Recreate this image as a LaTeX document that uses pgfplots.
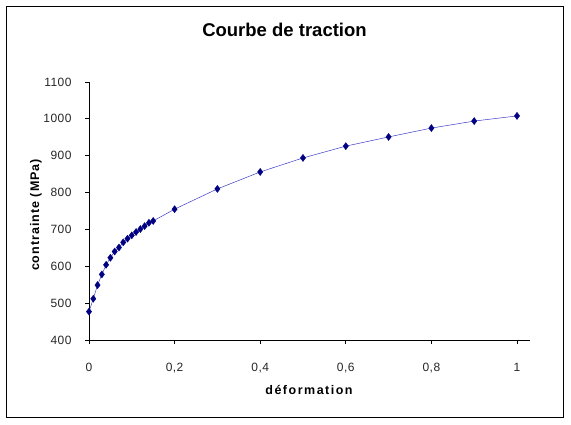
\documentclass[border=0pt]{standalone}
\usepackage{fontspec}
\setmainfont{Liberation Sans}
\usepackage{pgfplots}
\pgfplotsset{compat=1.18}
\definecolor{navy}{RGB}{0,0,128}
\definecolor{lineblue}{RGB}{60,60,200}
\begin{document}
\begin{tikzpicture}
\begin{axis}[
  at={(89pt,-340pt)}, anchor=south west,
  scale only axis, width=441pt, height=258pt,
  xmin=0, xmax=1.0304, ymin=400, ymax=1100,
  axis lines=left, axis line style={-, line width=0.8pt},
  xtick={0,0.2,0.4,0.6,0.8,1}, ytick={400,500,...,1100},
  tick align=outside, major tick length=4pt,
  tick style={black, line width=0.8pt},
  /pgf/number format/assume math mode=true,
  /pgf/number format/use comma,
  /pgf/number format/1000 sep={},
  tick label style={font=\fontsize{12}{14}\selectfont\addfontfeature{LetterSpace=4}, text=black!85},
  xticklabel style={anchor=base, inner sep=0pt, yshift=-27pt},
  yticklabel style={anchor=east, inner sep=0pt, xshift=-13.3pt},
  clip=false,
]
\addplot[color=lineblue, line width=0.5pt, mark=diamond*, mark size=3.6pt,
  mark options={fill=navy, draw=navy, line width=0.3pt}] coordinates {
(0,477) (0.01,512) (0.02,549) (0.03,578) (0.04,604) (0.05,623)
(0.06,640) (0.07,651) (0.08,665) (0.09,675) (0.10,684) (0.11,693)
(0.12,701) (0.13,709) (0.14,718) (0.15,723) (0.2,755) (0.3,810)
(0.4,856) (0.5,894) (0.6,926) (0.7,951) (0.8,975) (0.9,994) (1.0,1008)
};
\end{axis}
\node[font=\fontsize{18.5}{20}\selectfont\bfseries, inner sep=0pt] at (284.5pt,-30pt) {Courbe de traction};
\node[font=\fontsize{12.5}{14}\selectfont\bfseries\addfontfeature{LetterSpace=12}, anchor=base, inner sep=0pt] at (309pt,-394pt) {déformation};
\node[font=\fontsize{12.5}{14}\selectfont\bfseries\addfontfeature{LetterSpace=8}, rotate=90, inner sep=0pt] at (36pt,-215pt) {contrainte (MPa)};
\draw[line width=0.8pt] (6.3pt,-6pt) rectangle (563pt,-417pt);
\pgfresetboundingbox
\path (0,0) rectangle (571pt,-424pt);
\end{tikzpicture}
\end{document}
